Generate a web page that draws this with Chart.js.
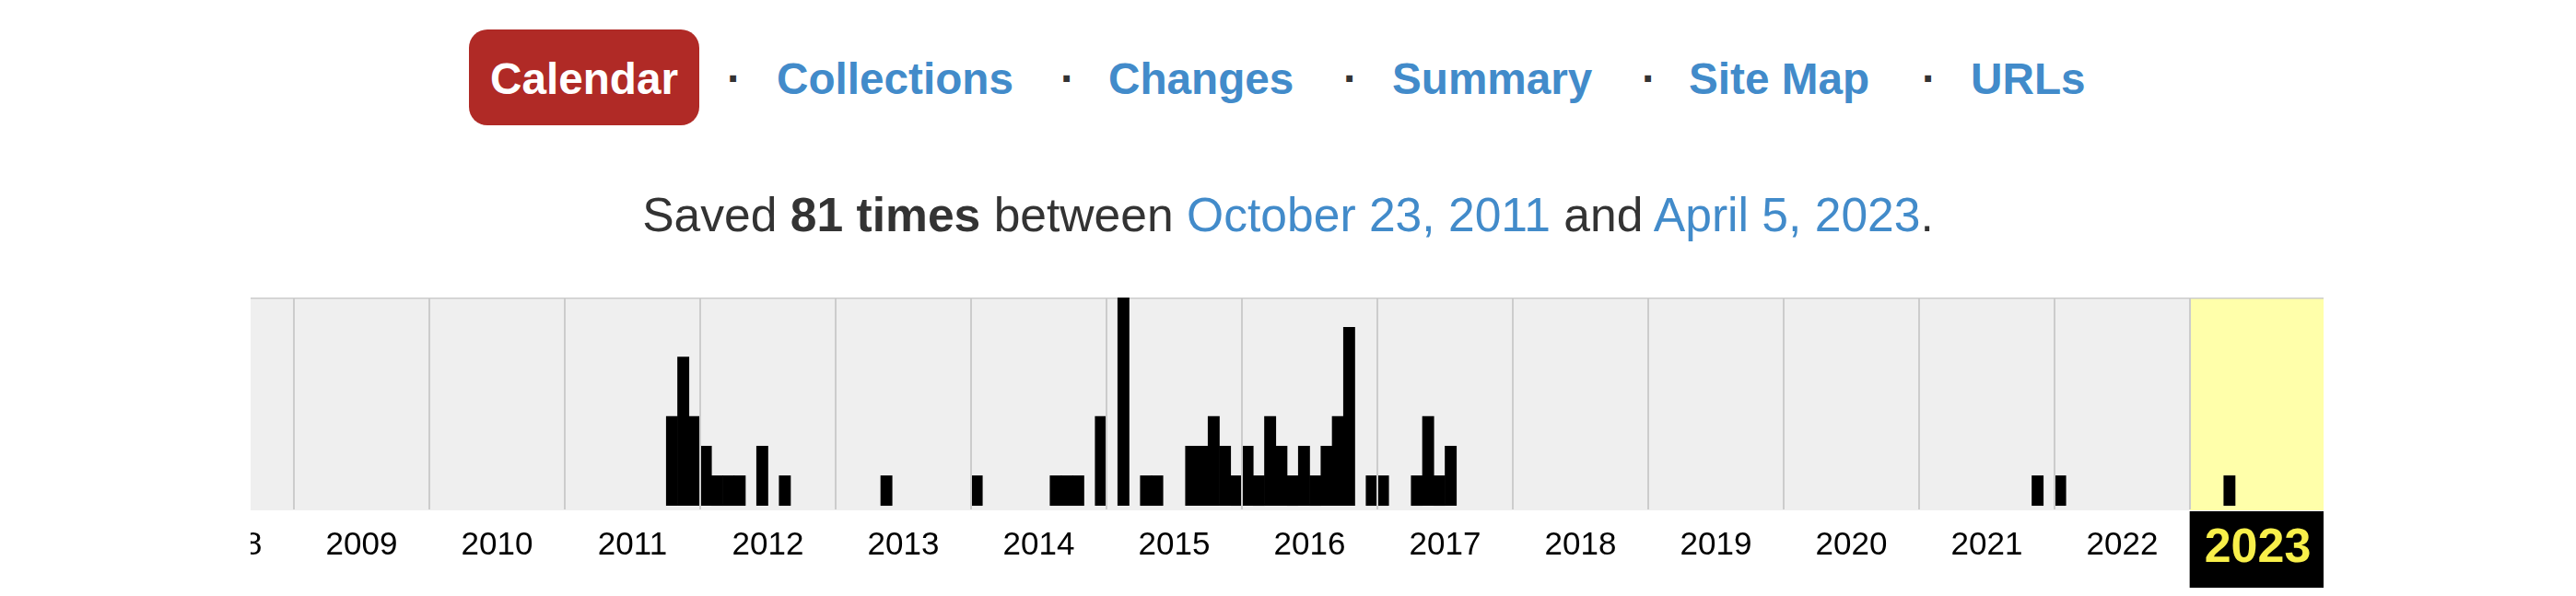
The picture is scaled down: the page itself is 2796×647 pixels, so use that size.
<!DOCTYPE html>
<html>
<head>
<meta charset="utf-8">
<title>Calendar</title>
<script src="https://cdn.jsdelivr.net/npm/chart.js@4/dist/chart.umd.min.js"></script>
<style>
    html, body { margin: 0; padding: 0; background: #fff; }
    body {
        width: 2796px; height: 647px; position: relative; overflow: hidden;
        font-family: "Liberation Sans", Arial, Helvetica, sans-serif;
    }
    .nav {
        position: absolute; top: 32px; height: 104px; line-height: 107px;
        font-size: 47.7px; font-weight: bold; white-space: nowrap; color: #428bca;
    }
    .nav.pill { left: 509px; width: 250px; background: #b02a26; color: #fff; border-radius: 20px; text-align: center; }
    .nav.dot { color: #333; width: 14px; text-align: center; }
    .saved {
        position: absolute; top: 198px; left: 0; width: 2796px; text-align: center;
        font-size: 51.6px; line-height: 70px; color: #333; white-space: nowrap;
    }
    .saved a { color: #428bca; text-decoration: none; }
    #spark { position: absolute; left: 272px; top: 323px; width: 2250px; height: 315px; overflow: hidden; }
    #sparkInner { position: absolute; left: -100px; top: 0; width: 2352px; height: 315px; }
</style>
</head>
<body>
<div class="nav pill">Calendar</div>
<div class="nav dot" style="left:789px">·</div>
<div class="nav" style="left:843px">Collections</div>
<div class="nav dot" style="left:1151px">·</div>
<div class="nav" style="left:1203px">Changes</div>
<div class="nav dot" style="left:1458px">·</div>
<div class="nav" style="left:1511px">Summary</div>
<div class="nav dot" style="left:1782px">·</div>
<div class="nav" style="left:1833px">Site Map</div>
<div class="nav dot" style="left:2086px">·</div>
<div class="nav" style="left:2139px">URLs</div>

<div class="saved">Saved <b>81 times</b> between <a href="#">October 23, 2011</a> and <a href="#">April 5, 2023</a>.</div>

<div id="spark"><div id="sparkInner"><canvas id="sparkCanvas"></canvas></div></div>

<script>
// one column per year, bars per month with captures
const yearLabels = ["2008", "2009", "2010", "2011", "2012", "2013", "2014", "2015",
    "2016", "2017", "2018", "2019", "2020", "2021", "2022", "2023"];
const selectedYear = "2023";

const captureMonths = [
    "2011-10", "2011-11", "2011-12",
    "2012-01", "2012-02", "2012-03", "2012-04", "2012-06", "2012-08",
    "2013-05",
    "2014-01", "2014-08", "2014-09", "2014-10", "2014-12",
    "2015-02", "2015-04", "2015-05", "2015-08", "2015-09", "2015-10", "2015-11", "2015-12",
    "2016-01", "2016-02", "2016-03", "2016-04", "2016-05", "2016-06", "2016-07", "2016-08",
    "2016-09", "2016-10", "2016-12",
    "2017-01", "2017-04", "2017-05", "2017-06", "2017-07",
    "2021-11", "2022-01", "2023-04",
];
const captureCounts = [
    3, 5, 3,
    2, 1, 1, 1, 2, 1,
    1,
    1, 1, 1, 1, 3,
    7, 1, 1, 2, 2, 3, 2, 1,
    2, 1, 3, 2, 1, 2, 1, 2,
    3, 6, 1,
    1, 1, 3, 1, 2,
    1, 1, 1,
];

(function () {
    const FONT = '"Liberation Sans", Arial, Helvetica, sans-serif';
    const firstYear = Number(yearLabels[0]);
    const selIdx = yearLabels.indexOf(selectedYear);

    // x is measured in months from Jan of the first year; bars sit in the middle of their month
    const monthPos = (ym) => {
        const [y, m] = ym.split("-").map(Number);
        return (y - firstYear) * 12 + (m - 1) + 0.5;
    };
    const points = captureMonths.map((ym, i) => ({ x: monthPos(ym), y: captureCounts[i] }));
    const yearCenter = (i) => i * 12 + 6;
    const isSel = (ctx) => !!ctx.tick && ctx.tick.value === yearCenter(selIdx);

    const sparkBackground = {
        id: "sparkBackground",
        beforeDraw(chart) {
            const { ctx, chartArea: a, scales: { x } } = chart;
            const selStart = x.getPixelForValue(selIdx * 12);
            ctx.save();
            ctx.fillStyle = "#efefef";
            ctx.fillRect(a.left, a.top, selStart - a.left, a.bottom - a.top);
            ctx.fillStyle = "#ffffaa";
            ctx.fillRect(selStart, a.top, a.right - selStart, a.bottom - a.top);
            ctx.restore();
        },
    };

    new Chart(document.getElementById("sparkCanvas"), {
        type: "bar",
        data: {
            datasets: [{
                data: points,
                backgroundColor: "#000",
                borderWidth: 0,
                barPercentage: 1,
                categoryPercentage: 1,
            }],
        },
        options: {
            responsive: true,
            maintainAspectRatio: false,
            animation: false,
            layout: { padding: 0 },
            plugins: { legend: { display: false }, tooltip: { enabled: false } },
            scales: {
                x: {
                    type: "linear",
                    min: 0,
                    max: yearLabels.length * 12,
                    offset: false,
                    afterBuildTicks: (scale) => {
                        scale.ticks = yearLabels.map((_, i) => ({ value: yearCenter(i) }));
                    },
                    grid: { offset: true, drawTicks: false, color: "#cccccc", lineWidth: 2, z: 1 },
                    border: { color: "#cccccc", width: 3 },
                    ticks: {
                        autoSkip: false,
                        maxRotation: 0,
                        minRotation: 0,
                        padding: 0,
                        callback: (v) => yearLabels[Math.round((v - 6) / 12)],
                        color: (ctx) => (isSel(ctx) ? "#f8ef4a" : "#000"),
                        font: (ctx) => (isSel(ctx)
                            ? { family: FONT, size: 52, weight: "bold", lineHeight: 84 / 52 }
                            : { family: FONT, size: 35, lineHeight: 2.2 }),
                        showLabelBackdrop: isSel,
                        backdropColor: "#000",
                        backdropPadding: { top: -1, bottom: 0, left: 16, right: 16 },
                    },
                },
                y: { display: false, min: -0.164, max: 7 },
            },
        },
        plugins: [sparkBackground],
    });
})();
</script>
</body>
</html>
